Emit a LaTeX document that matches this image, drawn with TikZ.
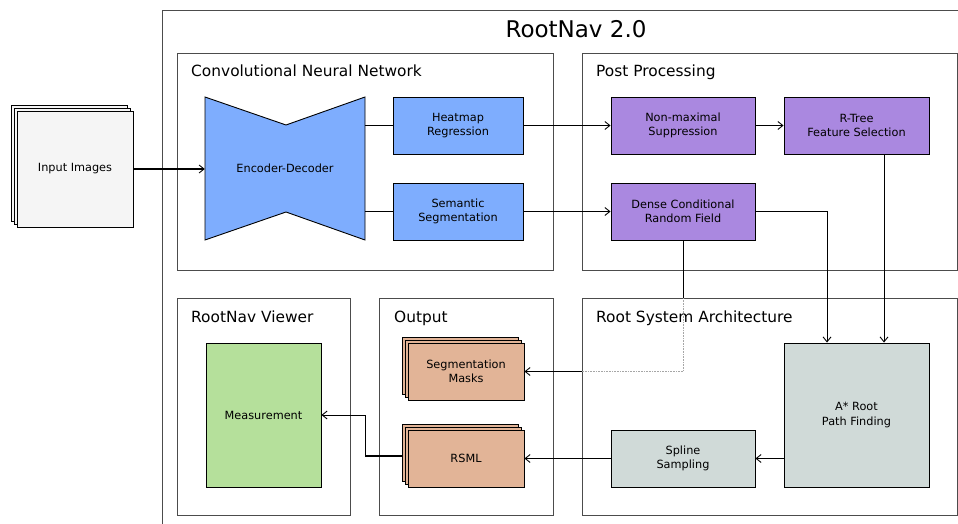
\documentclass[tikz,border=0pt]{standalone}
\usepackage{fontspec}
\setmainfont{DejaVu Sans}
\usetikzlibrary{arrows.meta}
\usetikzlibrary{shadows}

\definecolor{netblue}{RGB}{126,173,254}
\definecolor{postpurple}{RGB}{170,136,224}
\definecolor{rsagray}{RGB}{208,218,216}
\definecolor{outsalmon}{RGB}{226,180,151}
\definecolor{viewgreen}{RGB}{181,224,155}
\definecolor{inputgray}{RGB}{245,245,245}

\tikzset{
    panel/.style={draw=black!70, line width=0.9pt, inner sep=0pt},
    paneltitle/.style={font=\fontsize{15.4}{18}\selectfont, inner sep=0pt},
    box/.style={draw=black, line width=0.9pt, align=center, inner sep=0pt,
        font=\fontsize{11.3}{14.3}\selectfont},
    stack/.style={box, double copy shadow={shadow xshift=-3pt, shadow yshift=3pt}},
    arr/.style={-{Straight Barb[length=5pt, width=8pt, line width=0.9pt]}, line width=0.9pt},
}

\begin{document}
\begin{tikzpicture}[x=1pt, y=-1pt]
    \clip (0,0) rectangle (958,524);

    % --- Outer frame ---
    \draw[panel] (162,10) rectangle (1000,600);
    \node[font=\fontsize{23}{27}\selectfont, anchor=base, inner sep=0pt] (maintitle) at (576,38) {RootNav 2.0};

    % --- Panels ---
    \node[panel, anchor=north west, minimum width=376, minimum height=217] (cnn) at (177,53) {};
    \node[panel, anchor=north west, minimum width=375, minimum height=217] (post) at (582,53) {};
    \node[panel, anchor=north west, minimum width=173, minimum height=217] (viewer) at (177,298) {};
    \node[panel, anchor=north west, minimum width=174, minimum height=217] (output) at (379,298) {};
    \node[panel, anchor=north west, minimum width=375, minimum height=217] (rsa) at (582,298) {};
    \node[paneltitle, anchor=base west] (cnntitle) at (191,77) {Convolutional Neural Network};
    \node[paneltitle, anchor=base west] (posttitle) at (596,77) {Post Processing};
    \node[paneltitle, anchor=base west] (viewertitle) at (191,322) {RootNav Viewer};
    \node[paneltitle, anchor=base west] (outputtitle) at (394,322) {Output};
    \node[paneltitle, anchor=base west] (rsatitle) at (596,322) {Root System Architecture};

    % --- Input ---
    \node[stack, fill=inputgray, minimum width=116, minimum height=116] (input) at (75,169) {Input Images};

    % --- Network ---
    \draw[draw=black, line width=0.9pt, fill=netblue] (205,97) -- (286,125) -- (365,97) -- (365,240) -- (286,212) -- (205,240) -- cycle;
    \node[font=\fontsize{11.3}{14.3}\selectfont, inner sep=0pt, minimum width=160, minimum height=143] (enc) at (285,168.5) {Encoder-Decoder};
    \node[box, fill=netblue, minimum width=130, minimum height=57] (heat) at (458,125.5) {Heatmap\\Regression};
    \node[box, fill=netblue, minimum width=130, minimum height=57] (seg) at (458,211.5) {Semantic\\Segmentation};

    % --- Post processing ---
    \node[box, fill=postpurple, minimum width=144, minimum height=57] (nms) at (683,125.5) {Non-maximal\\Suppression};
    \node[box, fill=postpurple, minimum width=145, minimum height=57] (rtree) at (856.5,125.5) {R-Tree\\Feature Selection};
    \node[box, fill=postpurple, minimum width=144, minimum height=57] (crf) at (683,211.5) {Dense Conditional\\Random Field};

    % --- Root system architecture ---
    \node[box, fill=rsagray, minimum width=145, minimum height=144] (astar) at (856.5,415) {A* Root\\Path Finding};
    \node[box, fill=rsagray, minimum width=144, minimum height=57] (spline) at (683,458.5) {Spline\\Sampling};

    % --- Output ---
    \node[stack, fill=outsalmon, minimum width=116, minimum height=57] (masks) at (466,371.5) {Segmentation\\Masks};
    \node[stack, fill=outsalmon, minimum width=116, minimum height=57] (rsml) at (466,458.5) {RSML};

    % --- Viewer ---
    \node[box, fill=viewgreen, minimum width=115, minimum height=144] (meas) at (263.5,415) {Measurement};

    % --- Connections ---
    \draw[arr, line width=2pt] (input.east) -- (input.east -| enc.west);
    \draw[line width=0.9pt] (enc.east |- heat.west) -- (heat.west);
    \draw[line width=0.9pt] (enc.east |- seg.west) -- (seg.west);
    \draw[arr] (heat) -- (nms);
    \draw[arr] (nms) -- (rtree);
    \draw[arr] (seg) -- (crf);
    \draw[arr] (crf.east) -| ([xshift=-29.5pt]astar.north);
    \draw[arr] ([xshift=27.5pt]rtree.south) -- ([xshift=27.5pt]astar.north);
    \draw[arr] (astar.west |- spline.east) -- (spline.east);
    \draw[arr] (spline.west) -- (rsml.east);

    % mask path passes behind the RSA panel
    \draw[line width=0.9pt] (crf.south) -- (crf.south |- rsa.north);
    \draw[densely dotted, black!35, line width=0.6pt] (crf.south |- rsa.north) |- (rsa.west |- masks.east);
    \draw[arr] (rsa.west |- masks.east) -- (masks.east);

    % RSML into the viewer
    \coordinate (rsmlback) at ([shift={(-6pt,3pt)}]rsml.west);
    \coordinate (bend) at (365,455.5);
    \draw[line width=2pt] (rsmlback) -- (bend);
    \draw[arr] (bend) |- (meas.east);
\end{tikzpicture}
\end{document}
